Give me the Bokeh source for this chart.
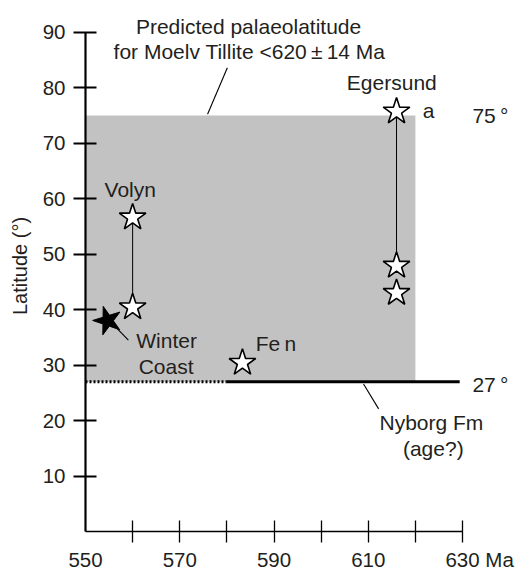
from bokeh.plotting import figure
from bokeh.models import FixedTicker, Range1d
from bokeh.core.properties import value
from bokeh.embed import file_html
from bokeh.resources import INLINE

# ---- data ----
volyn_age = [560, 560]
volyn_lat = [56.6, 40.4]
egersund_age = [616, 616, 616]
egersund_lat = [75.7, 47.9, 43.0]
fen_age = [583.3]
fen_lat = [30.4]
winter_age = [554.7]
winter_lat = [38.0]

box_age = [550, 620]
box_lat = [27, 75]
nyborg_lat = 27
nyborg_dotted_age = [550, 580]
nyborg_solid_age = [580, 629.4]

x_ticks = [550, 570, 590, 610, 630]
x_minor = [560, 570, 580, 590, 600, 610, 620, 630]
y_ticks = [10, 20, 30, 40, 50, 60, 70, 80, 90]

FONT = "Liberation Sans"
TXT = "#231f20"
FS = "21px"
TFS = "20.5px"

p = figure(width=517, height=573, output_backend="svg", toolbar_location=None,
           x_range=Range1d(550, 641.67), y_range=Range1d(0, 95.71))
p.min_border_left = 85
p.min_border_right = 0
p.min_border_top = 0
p.min_border_bottom = 37
p.outline_line_color = None
p.grid.visible = False
p.background_fill_color = "white"
p.border_fill_color = "white"

# axes
xa = p.xaxis[0]
xa.ticker = FixedTicker(ticks=x_ticks, minor_ticks=x_minor)
xa.bounds = (550, 630)
xa.major_label_overrides = {630: "\u2007\u2007\u2007630 Ma"}
xa.major_tick_line_color = None
xa.major_tick_in = 0
xa.major_tick_out = 11
xa.minor_tick_in = 11
xa.minor_tick_out = 11
xa.minor_tick_line_color = "black"
xa.minor_tick_line_width = 1.3
xa.axis_line_width = 1.6
xa.axis_line_color = "black"
xa.major_label_standoff = 5
xa.major_label_text_font = FONT
xa.major_label_text_font_size = TFS
xa.major_label_text_color = TXT

ya = p.yaxis[0]
ya.ticker = FixedTicker(ticks=y_ticks, minor_ticks=[])
ya.bounds = (0, 90)
ya.major_tick_in = 11
ya.major_tick_out = 12
ya.major_tick_line_width = 2
ya.major_tick_line_color = "black"
ya.axis_line_width = 2.2
ya.axis_line_color = "black"
ya.major_label_standoff = 8
ya.major_label_text_font = FONT
ya.major_label_text_font_size = TFS
ya.major_label_text_color = TXT
ya.axis_label = "Latitude (\u00b0)"
ya.axis_label_text_font = FONT
ya.axis_label_text_font_size = "20px"
ya.axis_label_text_font_style = "normal"
ya.axis_label_text_color = TXT
ya.axis_label_standoff = 9

# predicted palaeolatitude band
p.quad(left=[box_age[0]], right=[box_age[1]], bottom=[box_lat[0]], top=[box_lat[1]],
       fill_color="#c2c2c2", line_color=None)

# Nyborg line
p.line(nyborg_dotted_age, [nyborg_lat, nyborg_lat], line_color="black", line_width=3,
       line_dash="2 2")
p.line(nyborg_solid_age, [nyborg_lat, nyborg_lat], line_color="black", line_width=3)

# connecting lines
p.line(volyn_age, volyn_lat, line_color="black", line_width=1)
p.line(egersund_age[:2], egersund_lat[:2], line_color="black", line_width=1)

# leader lines
p.segment(x0=[580.1, 555.9, 609.0], y0=[83.6, 37.3, 26.6],
          x1=[575.9, 559.1, 612.2], y1=[75.2, 34.5, 22.1],
          line_color="black", line_width=1.1)

# stars
star_kw = dict(marker="star", size=28, fill_color="white", line_color="black", line_width=1.6)
p.scatter(volyn_age, volyn_lat, **star_kw)
p.scatter(egersund_age, egersund_lat, **star_kw)
p.scatter(fen_age, fen_lat, **star_kw)
p.scatter(winter_age, winter_lat, marker="star", size=30, angle=0.3,
          fill_color="black", line_color="black", line_width=1)

# texts
labels_x = [584.6, 584.8, 615.0, 622.8, 632.1, 632.1, 559.5, 567.2, 567.1, 590.4, 623.4, 623.8]
labels_y = [91.1, 86.5, 80.9, 75.9, 74.9, 26.5, 61.6, 34.4, 29.8, 33.9, 19.6, 14.9]
labels_t = ["Predicted palaeolatitude",
            "for Moelv Tillite <620\u2009\u00b1\u200914 Ma",
            "Egersund", "a", "75\u2009\u00b0", "27\u2009\u00b0", "Volyn", "Winter", "Coast",
            "Fe\u2009n", "Nyborg Fm", "(age?)"]
labels_a = ["center", "center", "center", "center", "left", "left", "center", "center",
            "center", "center", "center", "center"]
p.text(x=labels_x, y=labels_y, text=labels_t, text_align=labels_a,
       text_baseline="alphabetic", text_font=value(FONT), text_font_size=FS,
       text_color=TXT)

open("out.html", "w").write(file_html(p, INLINE))
